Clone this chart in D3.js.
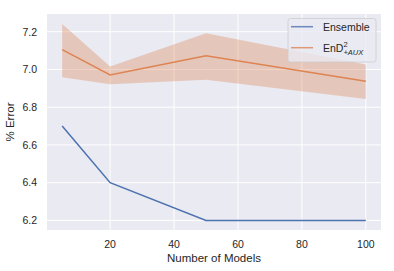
<!DOCTYPE html>
<html>
<head>
<meta charset="utf-8">
<script src="https://cdn.jsdelivr.net/npm/d3@7"></script>
<style>
body { margin: 0; background: #fff; }
text { font-family: "Liberation Sans", Arial, sans-serif; fill: #262626; }
</style>
</head>
<body>
<svg id="svg" width="394" height="271"></svg>
<script>
var models = [5, 20, 50, 100];
var ensemble = [6.70, 6.40, 6.20, 6.20];
var end2 = [7.105, 6.971, 7.072, 6.938];
var end2Lower = [6.959, 6.922, 6.946, 6.843];
var end2Upper = [7.241, 7.016, 7.192, 7.026];
var xTicks = [20, 40, 60, 80, 100];
var yTicks = [6.2, 6.4, 6.6, 6.8, 7.0, 7.2];

var svg = d3.select("#svg");
// plot box (window.top is reserved, so prefix the names)
var plotLeft = 47, plotRight = 381, plotTop = 14, plotBottom = 230;

var x = d3.scaleLinear().domain([0.25, 104.75]).range([plotLeft, plotRight]);
var y = d3.scaleLinear().domain([6.149, 7.294]).range([plotBottom, plotTop]);

svg.append("rect").attr("x", plotLeft).attr("y", plotTop)
	.attr("width", plotRight - plotLeft).attr("height", plotBottom - plotTop)
	.attr("fill", "#eaeaf2");

// grid
svg.append("g").selectAll("line").data(xTicks).enter().append("line")
	.attr("x1", function(d){ return x(d); }).attr("x2", function(d){ return x(d); })
	.attr("y1", plotTop).attr("y2", plotBottom)
	.attr("stroke", "#fff").attr("stroke-width", 1);
svg.append("g").selectAll("line").data(yTicks).enter().append("line")
	.attr("y1", function(d){ return y(d); }).attr("y2", function(d){ return y(d); })
	.attr("x1", plotLeft).attr("x2", plotRight)
	.attr("stroke", "#fff").attr("stroke-width", 1);

// tick labels
svg.append("g").selectAll("text").data(xTicks).enter().append("text")
	.attr("x", function(d){ return x(d); }).attr("y", 248)
	.attr("text-anchor", "middle").attr("font-size", 10.5)
	.text(function(d){ return d; });
svg.append("g").selectAll("text").data(yTicks).enter().append("text")
	.attr("x", 37).attr("y", function(d){ return y(d) + 3.8; })
	.attr("text-anchor", "end").attr("font-size", 10.5)
	.text(function(d){ return d.toFixed(1); });

// band
var area = d3.area()
	.x(function(d, i){ return x(models[i]); })
	.y0(function(d, i){ return y(end2Lower[i]); })
	.y1(function(d, i){ return y(end2Upper[i]); });
svg.append("path").datum(models).attr("d", area)
	.attr("fill", "#dd8452").attr("fill-opacity", 0.35).attr("stroke", "none");

var line = d3.line()
	.x(function(d){ return x(d[0]); })
	.y(function(d){ return y(d[1]); });
svg.append("path").datum(d3.zip(models, ensemble)).attr("d", line)
	.attr("fill", "none").attr("stroke", "#4c72b0").attr("stroke-width", 1.5);
svg.append("path").datum(d3.zip(models, end2)).attr("d", line)
	.attr("fill", "none").attr("stroke", "#dd8452").attr("stroke-width", 1.5);

// axis titles
svg.append("text").attr("x", (plotLeft + plotRight) / 2).attr("y", 262)
	.attr("text-anchor", "middle").attr("font-size", 11.5).text("Number of Models");
svg.append("text").attr("transform", "translate(14," + ((plotTop + plotBottom) / 2) + ") rotate(-90)")
	.attr("text-anchor", "middle").attr("font-size", 11.5).text("% Error");

// legend
var lg = svg.append("g");
lg.append("rect").attr("x", 288).attr("y", 18.5).attr("width", 88).attr("height", 43.5)
	.attr("rx", 2.5).attr("fill", "#eaeaf2").attr("fill-opacity", 0.8)
	.attr("stroke", "#cccccc").attr("stroke-width", 0.8);
lg.append("line").attr("x1", 291).attr("x2", 313).attr("y1", 26.7).attr("y2", 26.7)
	.attr("stroke", "#4c72b0").attr("stroke-opacity", 0.8).attr("stroke-width", 1.5);
lg.append("text").attr("x", 323).attr("y", 30.7).attr("font-size", 10.5).text("Ensemble");
lg.append("line").attr("x1", 291).attr("x2", 313).attr("y1", 47.7).attr("y2", 47.7)
	.attr("stroke", "#dd8452").attr("stroke-opacity", 0.8).attr("stroke-width", 1.5);
var t = lg.append("text").attr("x", 323).attr("y", 51.5).attr("font-size", 10.5);
t.append("tspan").text("EnD");
t.append("tspan").attr("font-size", 7.5).attr("dy", -5).text("2");
t.append("tspan").attr("font-size", 7.5).attr("font-style", "italic").attr("dx", -4.2).attr("dy", 8).text("+AUX");
</script>
</body>
</html>
